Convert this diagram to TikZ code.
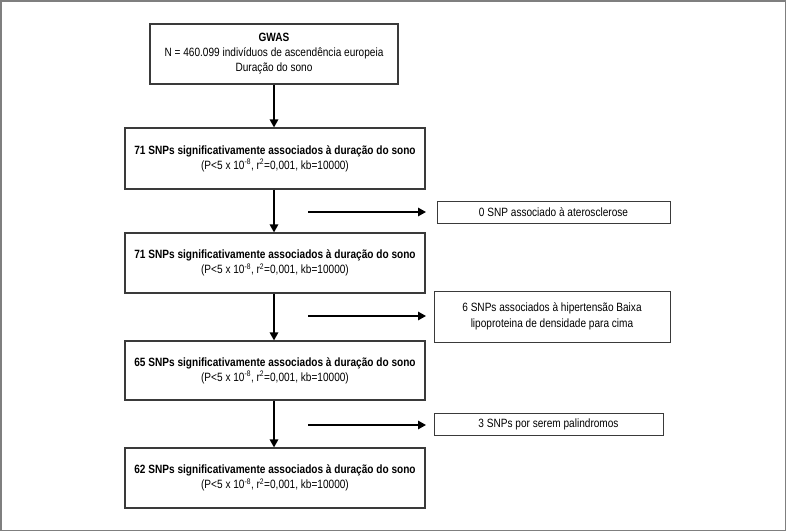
\documentclass[tikz,border=0pt]{standalone}
\usepackage{fontspec}
\setmainfont{Liberation Sans}[FakeStretch=0.84]
\usetikzlibrary{arrows.meta}
\definecolor{frame}{HTML}{7F7F7F}
\definecolor{boxline}{HTML}{3A3A3A}
\tikzset{
  mainbox/.style={draw=boxline, line width=1.2pt, minimum width=300pt, minimum height=60pt, inner sep=0pt, align=center, font=\fontsize{12}{15}\selectfont},
  sidebox/.style={draw=boxline, line width=1pt, inner sep=0pt, align=center, font=\fontsize{12}{15.5}\selectfont},
  flow/.style={line width=1.5pt, -{Triangle[length=8pt,width=8.5pt]}}
}
\newcommand{\crit}{(P<5 x 10\textsuperscript{-8}, r\textsuperscript{2}=0,001, kb=10000)}
\begin{document}
\begin{tikzpicture}[x=1pt,y=-1pt]
\useasboundingbox (0,0) rectangle (787,532);
\draw[frame, line width=1.2pt] (1,1) rectangle (785.5,530.5);
\node[mainbox, minimum width=248pt] (gwas) at (274,54) {\textbf{GWAS}\\N = 460.099 indivíduos de ascendência europeia\\Duração do sono};
\node[mainbox, minimum height=61pt] (b1) at (275,158.5) {\textbf{71 SNPs significativamente associados à duração do sono}\\\crit};
\node[mainbox] (b2) at (275,263) {\textbf{71 SNPs significativamente associados à duração do sono}\\\crit};
\node[mainbox, minimum height=59pt] (b3) at (275,370.5) {\textbf{65 SNPs significativamente associados à duração do sono}\\\crit};
\node[mainbox] (b4) at (275,478) {\textbf{62 SNPs significativamente associados à duração do sono}\\\crit};
\node[sidebox, minimum width=233pt, minimum height=22pt] (s1) at (553.5,212) {0 SNP associado à aterosclerose};
\node[sidebox, minimum width=236pt, minimum height=51pt] (s2) at (552,316.5) {6 SNPs associados à hipertensão Baixa\\lipoproteina de densidade para cima};
\node[sidebox, minimum width=229pt, minimum height=22pt] (s3) at (548.5,424) {3 SNPs por serem palindromos};
\draw[flow] (gwas.south -| 274,0) -- (b1.north -| 274,0);
\draw[flow] (b1.south -| 274,0) -- (b2.north -| 274,0);
\draw[flow] (b2.south -| 274,0) -- (b3.north -| 274,0);
\draw[flow] (b3.south -| 274,0) -- (b4.north -| 274,0);
\coordinate (a1s) at (308,212); \coordinate (a1e) at (426,212);
\coordinate (a2s) at (308,316); \coordinate (a2e) at (426,316);
\coordinate (a3s) at (308,425); \coordinate (a3e) at (426,425);
\draw[flow] (a1s) -- (a1e);
\draw[flow] (a2s) -- (a2e);
\draw[flow] (a3s) -- (a3e);
\end{tikzpicture}
\end{document}
